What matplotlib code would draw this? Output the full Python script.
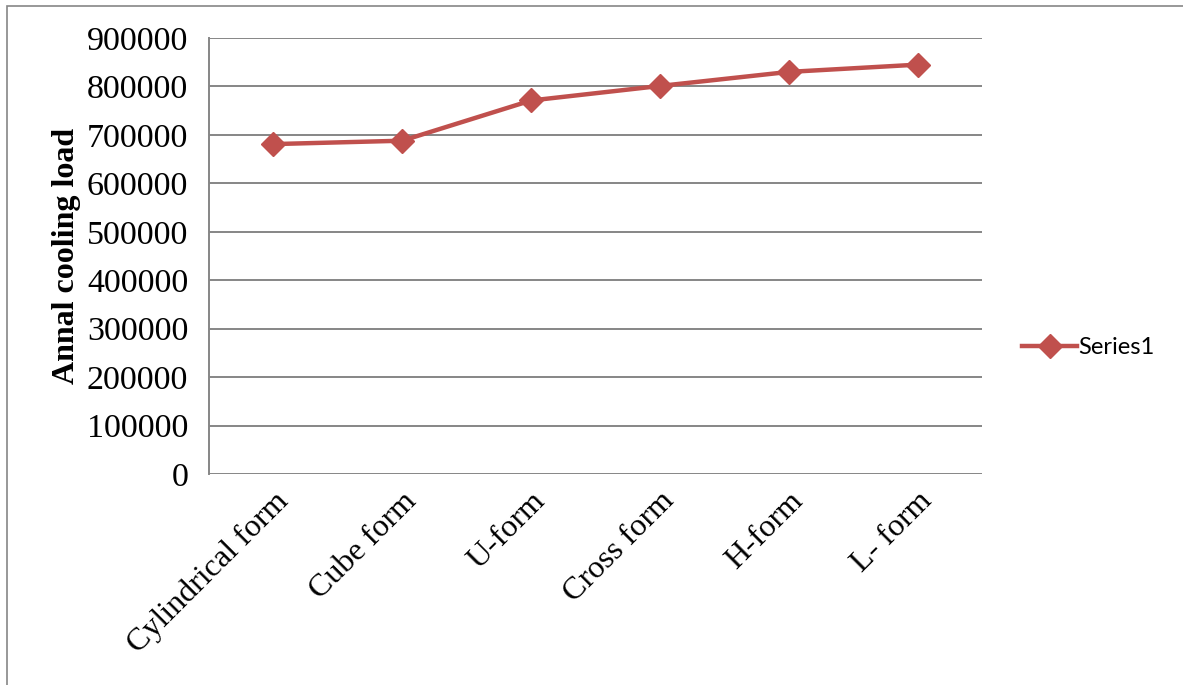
import matplotlib.pyplot as plt
from matplotlib.patches import Rectangle

forms = ["Cylindrical form", "Cube form", "U-form", "Cross form", "H-form", "L- form"]
cooling_load = [681000, 688000, 771000, 801000, 830000, 845000]
yticks = [0, 100000, 200000, 300000, 400000, 500000, 600000, 700000, 800000, 900000]

fig = plt.figure(figsize=(11.83, 6.85), dpi=100)
ax = fig.add_axes([209/1183, 1-474/685, (982-209)/1183, (474-38)/685])

x = list(range(len(forms)))
ax.plot(x, cooling_load, color="#C0504D", lw=3.2, marker="D", markersize=12,
        label="Series1")

ax.set_xlim(-0.5, len(forms)-0.5)
ax.set_ylim(0, 900000)
ax.set_yticks(yticks)
ax.set_yticklabels([str(v) for v in yticks], family="Liberation Serif", fontsize=24.5)
ax.set_xticks(x)
ax.set_xticklabels(forms, family="Liberation Serif", fontsize=23,
                   rotation=45, ha="right", rotation_mode="anchor")
ax.tick_params(axis="both", length=0)
ax.tick_params(axis="y", pad=15)
ax.tick_params(axis="x", pad=9)
ax.grid(axis="y", color="#868686", lw=1.4)
ax.set_axisbelow(True)
for s in ["top", "right", "bottom"]:
    ax.spines[s].set_visible(False)
ax.spines["left"].set_color("#868686")
ax.spines["left"].set_linewidth(1.4)

ax.set_ylabel("Annal cooling load", family="Liberation Serif", fontweight="bold",
              fontsize=23, labelpad=4)

leg = ax.legend(loc="center left", bbox_to_anchor=(1.04, 0.289), frameon=False,
                prop={"family": "Lato", "size": 17}, handlelength=2.3,
                handletextpad=0.05, borderaxespad=0)

# outer chart border
fig.patches.append(Rectangle((7/1183, -0.05), 1.1, 1-6/685+0.05, transform=fig.transFigure,
                             fill=False, edgecolor="#868686", lw=1.2))

fig.savefig("out.png", dpi=100)
